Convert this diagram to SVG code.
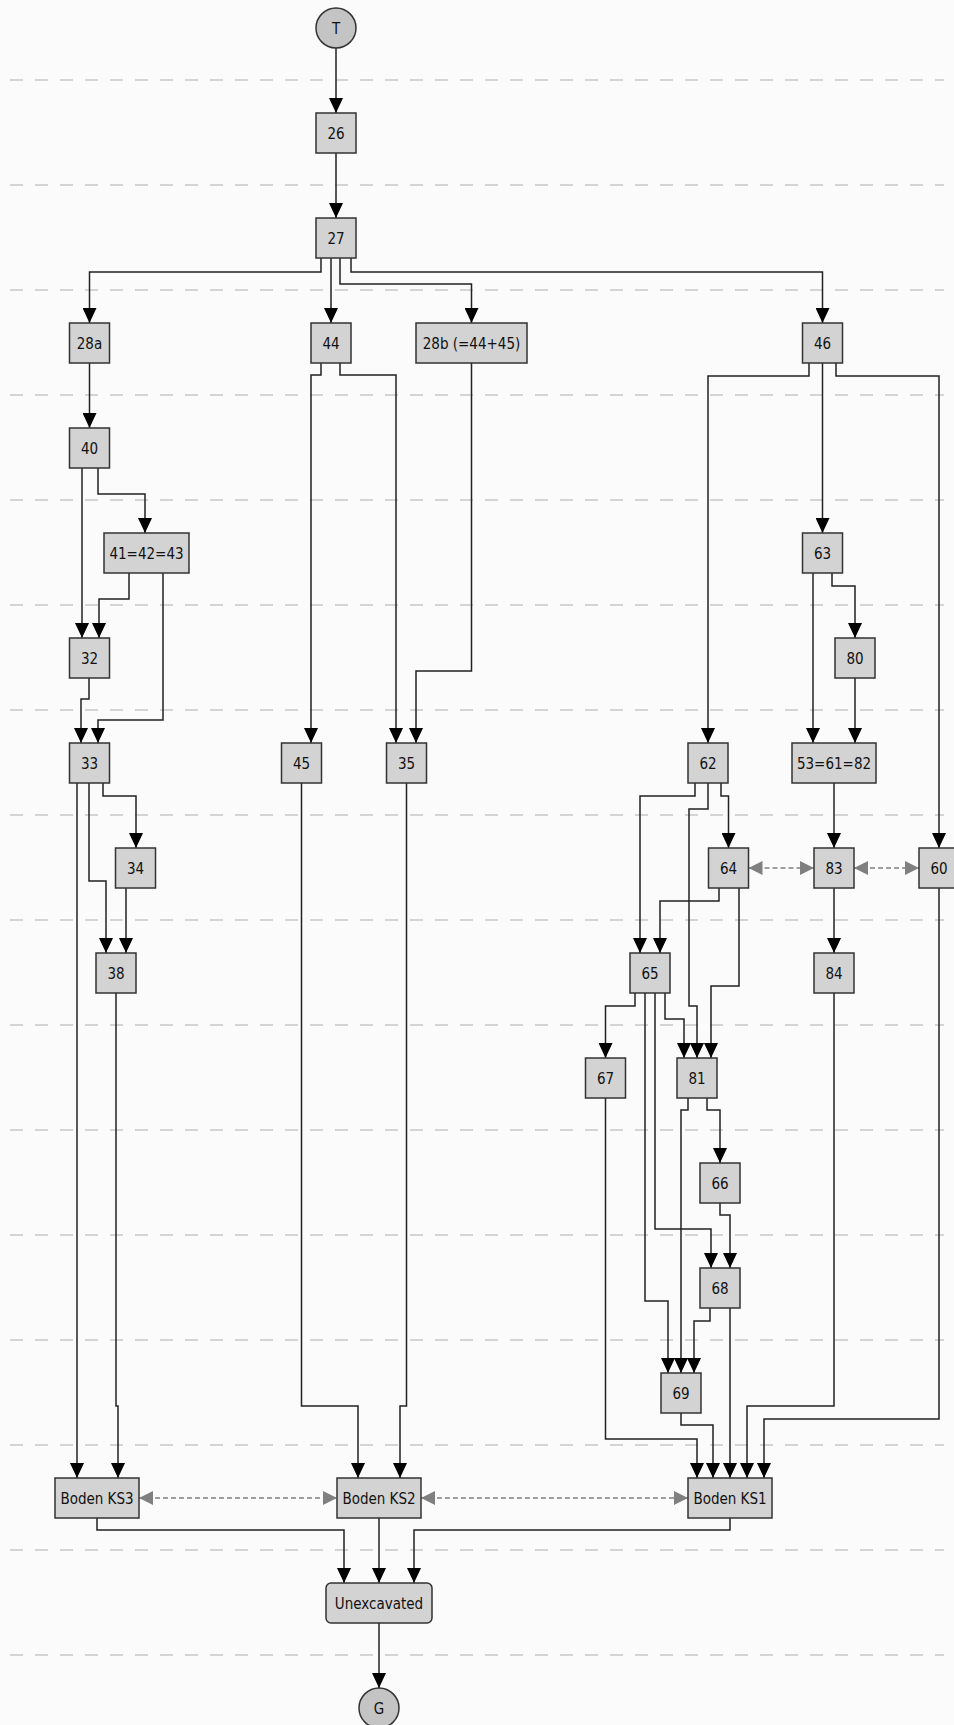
<svg xmlns="http://www.w3.org/2000/svg" width="954" height="1725" viewBox="0 0 954 1725">
<style>
.bg{fill:#fbfbfb}
.guide{stroke:#c8c8c8;stroke-width:1.5;stroke-dasharray:13 12;fill:none}
.nd rect{fill:#d3d3d3;stroke:#333;stroke-width:1.5}
.nd circle{fill:#c4c4c4;stroke:#333;stroke-width:1.5}
.nd text{font-family:"DejaVu Sans Condensed","DejaVu Sans","Liberation Sans",sans-serif;font-stretch:condensed;font-size:15px;fill:#111;text-anchor:middle}
.e{fill:none;stroke:#222;stroke-width:1.5;marker-end:url(#ah)}
.d{fill:none;stroke:#808080;stroke-width:1.5;stroke-dasharray:5 3;marker-end:url(#gh);marker-start:url(#gs)}
</style>
<defs>
<marker id="ah" markerUnits="userSpaceOnUse" markerWidth="15" markerHeight="14" refX="15" refY="7" orient="auto" viewBox="0 0 15 14"><path d="M0,0 L15,7 L0,14 z" fill="#000"/></marker>
<marker id="gh" markerUnits="userSpaceOnUse" markerWidth="14" markerHeight="14" refX="14" refY="7" orient="auto" viewBox="0 0 14 14"><path d="M0,0 L14,7 L0,14 z" fill="#808080"/></marker>
<marker id="gs" markerUnits="userSpaceOnUse" markerWidth="14" markerHeight="14" refX="14" refY="7" orient="auto-start-reverse" viewBox="0 0 14 14"><path d="M0,0 L14,7 L0,14 z" fill="#808080"/></marker>
</defs>
<rect class="bg" x="0" y="0" width="954" height="1725"/>
<g id="guides">
<path class="guide" d="M10,80H944M10,185H944M10,290H944M10,395H944M10,500H944M10,605H944M10,710H944M10,815H944M10,920H944M10,1025H944M10,1130H944M10,1235H944M10,1340H944M10,1445H944M10,1550H944M10,1655H944"/>
</g>
<g id="connectors">
<path class="e" d="M336,48V113"/>
<path class="e" d="M336,153V218"/>
<path class="e" d="M321,258V272H89.5V323"/>
<path class="e" d="M331,258V323"/>
<path class="e" d="M340,258V284H471.5V323"/>
<path class="e" d="M351,258V272H822.5V323"/>
<path class="e" d="M89.5,363V428"/>
<path class="e" d="M321,363V375H311V743"/>
<path class="e" d="M340,363V375H396V743"/>
<path class="e" d="M471.5,363V671H416V743"/>
<path class="e" d="M809,363V376H708V743"/>
<path class="e" d="M822.5,363V533"/>
<path class="e" d="M836,363V376H939V848"/>
<path class="e" d="M82,468V638"/>
<path class="e" d="M98,468V494H145V533"/>
<path class="e" d="M129,573V599H99V638"/>
<path class="e" d="M163,573V720H98V743"/>
<path class="e" d="M89,678V699H81V743"/>
<path class="e" d="M813,573V743"/>
<path class="e" d="M832,573V586H855V638"/>
<path class="e" d="M855,678V743"/>
<path class="e" d="M834,783V848"/>
<path class="e" d="M695,783V796H640V953"/>
<path class="e" d="M708,783V809H689V1006H697V1058"/>
<path class="e" d="M721,783V796H728.5V848"/>
<path class="e" d="M77,783V1478"/>
<path class="e" d="M89,783V881H106V953"/>
<path class="e" d="M103,783V796H136V848"/>
<path class="e" d="M126,888V953"/>
<path class="e" d="M301.5,783V1406H358V1478"/>
<path class="e" d="M406.5,783V1406H400V1478"/>
<path class="e" d="M116,993V1406H118V1478"/>
<path class="e" d="M719,888V901H660V953"/>
<path class="e" d="M739,888V986H711V1058"/>
<path class="e" d="M834,888V953"/>
<path class="e" d="M939,888V1419H764V1478"/>
<path class="e" d="M834,993V1406H747V1478"/>
<path class="e" d="M635,993V1006H605.5V1058"/>
<path class="e" d="M645,993V1301H668V1373"/>
<path class="e" d="M655,993V1229H711V1268"/>
<path class="e" d="M665,993V1019H684V1058"/>
<path class="e" d="M688,1098V1110H681V1373"/>
<path class="e" d="M707,1098V1110H720V1163"/>
<path class="e" d="M720,1203V1215H730V1268"/>
<path class="e" d="M710,1308V1321H694V1373"/>
<path class="e" d="M730,1308V1478"/>
<path class="e" d="M605.5,1098V1439H697V1478"/>
<path class="e" d="M681,1413V1425H713V1478"/>
<path class="e" d="M97,1518V1530H344V1583"/>
<path class="e" d="M379,1518V1583"/>
<path class="e" d="M730,1518V1530H414V1583"/>
<path class="e" d="M379,1623V1688"/>
<path class="d" d="M748.5,868H814"/>
<path class="d" d="M854,868H919"/>
<path class="d" d="M139,1498H337"/>
<path class="d" d="M421,1498H688"/>
</g>
<g id="T" class="nd"><circle cx="336" cy="28" r="20"/><text x="336" y="33.5">T</text></g>
<g id="n26" class="nd"><rect x="316" y="113" width="40" height="40"/><text x="336" y="138.5">26</text></g>
<g id="n27" class="nd"><rect x="316" y="218" width="40" height="40"/><text x="336" y="243.5">27</text></g>
<g id="n28a" class="nd"><rect x="69.5" y="323" width="40" height="40"/><text x="89.5" y="348.5">28a</text></g>
<g id="n44" class="nd"><rect x="311" y="323" width="40" height="40"/><text x="331" y="348.5">44</text></g>
<g id="n28b" class="nd"><rect x="416" y="323" width="111" height="40"/><text x="471.5" y="348.5">28b (=44+45)</text></g>
<g id="n46" class="nd"><rect x="802.5" y="323" width="40" height="40"/><text x="822.5" y="348.5">46</text></g>
<g id="n40" class="nd"><rect x="69.5" y="428" width="40" height="40"/><text x="89.5" y="453.5">40</text></g>
<g id="n41" class="nd"><rect x="104" y="533" width="85" height="40"/><text x="146.5" y="558.5">41=42=43</text></g>
<g id="n63" class="nd"><rect x="802.5" y="533" width="40" height="40"/><text x="822.5" y="558.5">63</text></g>
<g id="n32" class="nd"><rect x="69.5" y="638" width="40" height="40"/><text x="89.5" y="663.5">32</text></g>
<g id="n80" class="nd"><rect x="835" y="638" width="40" height="40"/><text x="855" y="663.5">80</text></g>
<g id="n33" class="nd"><rect x="69.5" y="743" width="40" height="40"/><text x="89.5" y="768.5">33</text></g>
<g id="n45" class="nd"><rect x="281.5" y="743" width="40" height="40"/><text x="301.5" y="768.5">45</text></g>
<g id="n35" class="nd"><rect x="386.5" y="743" width="40" height="40"/><text x="406.5" y="768.5">35</text></g>
<g id="n62" class="nd"><rect x="688" y="743" width="40" height="40"/><text x="708" y="768.5">62</text></g>
<g id="n53" class="nd"><rect x="792" y="743" width="84" height="40"/><text x="834" y="768.5">53=61=82</text></g>
<g id="n34" class="nd"><rect x="115.5" y="848" width="40" height="40"/><text x="135.5" y="873.5">34</text></g>
<g id="n64" class="nd"><rect x="708.5" y="848" width="40" height="40"/><text x="728.5" y="873.5">64</text></g>
<g id="n83" class="nd"><rect x="814" y="848" width="40" height="40"/><text x="834" y="873.5">83</text></g>
<g id="n60" class="nd"><rect x="919" y="848" width="40" height="40"/><text x="939" y="873.5">60</text></g>
<g id="n38" class="nd"><rect x="96" y="953" width="40" height="40"/><text x="116" y="978.5">38</text></g>
<g id="n65" class="nd"><rect x="630" y="953" width="40" height="40"/><text x="650" y="978.5">65</text></g>
<g id="n84" class="nd"><rect x="814" y="953" width="40" height="40"/><text x="834" y="978.5">84</text></g>
<g id="n67" class="nd"><rect x="585.5" y="1058" width="40" height="40"/><text x="605.5" y="1083.5">67</text></g>
<g id="n81" class="nd"><rect x="677" y="1058" width="40" height="40"/><text x="697" y="1083.5">81</text></g>
<g id="n66" class="nd"><rect x="700" y="1163" width="40" height="40"/><text x="720" y="1188.5">66</text></g>
<g id="n68" class="nd"><rect x="700" y="1268" width="40" height="40"/><text x="720" y="1293.5">68</text></g>
<g id="n69" class="nd"><rect x="661" y="1373" width="40" height="40"/><text x="681" y="1398.5">69</text></g>
<g id="ks3" class="nd"><rect x="55" y="1478" width="84" height="40"/><text x="97" y="1503.5">Boden KS3</text></g>
<g id="ks2" class="nd"><rect x="337" y="1478" width="84" height="40"/><text x="379" y="1503.5">Boden KS2</text></g>
<g id="ks1" class="nd"><rect x="688" y="1478" width="84" height="40"/><text x="730" y="1503.5">Boden KS1</text></g>
<g id="unexc" class="nd"><rect x="326" y="1583" width="106" height="40" rx="5"/><text x="379" y="1608.5">Unexcavated</text></g>
<g id="G" class="nd"><circle cx="379" cy="1708" r="20"/><text x="379" y="1713.5">G</text></g>
</svg>
